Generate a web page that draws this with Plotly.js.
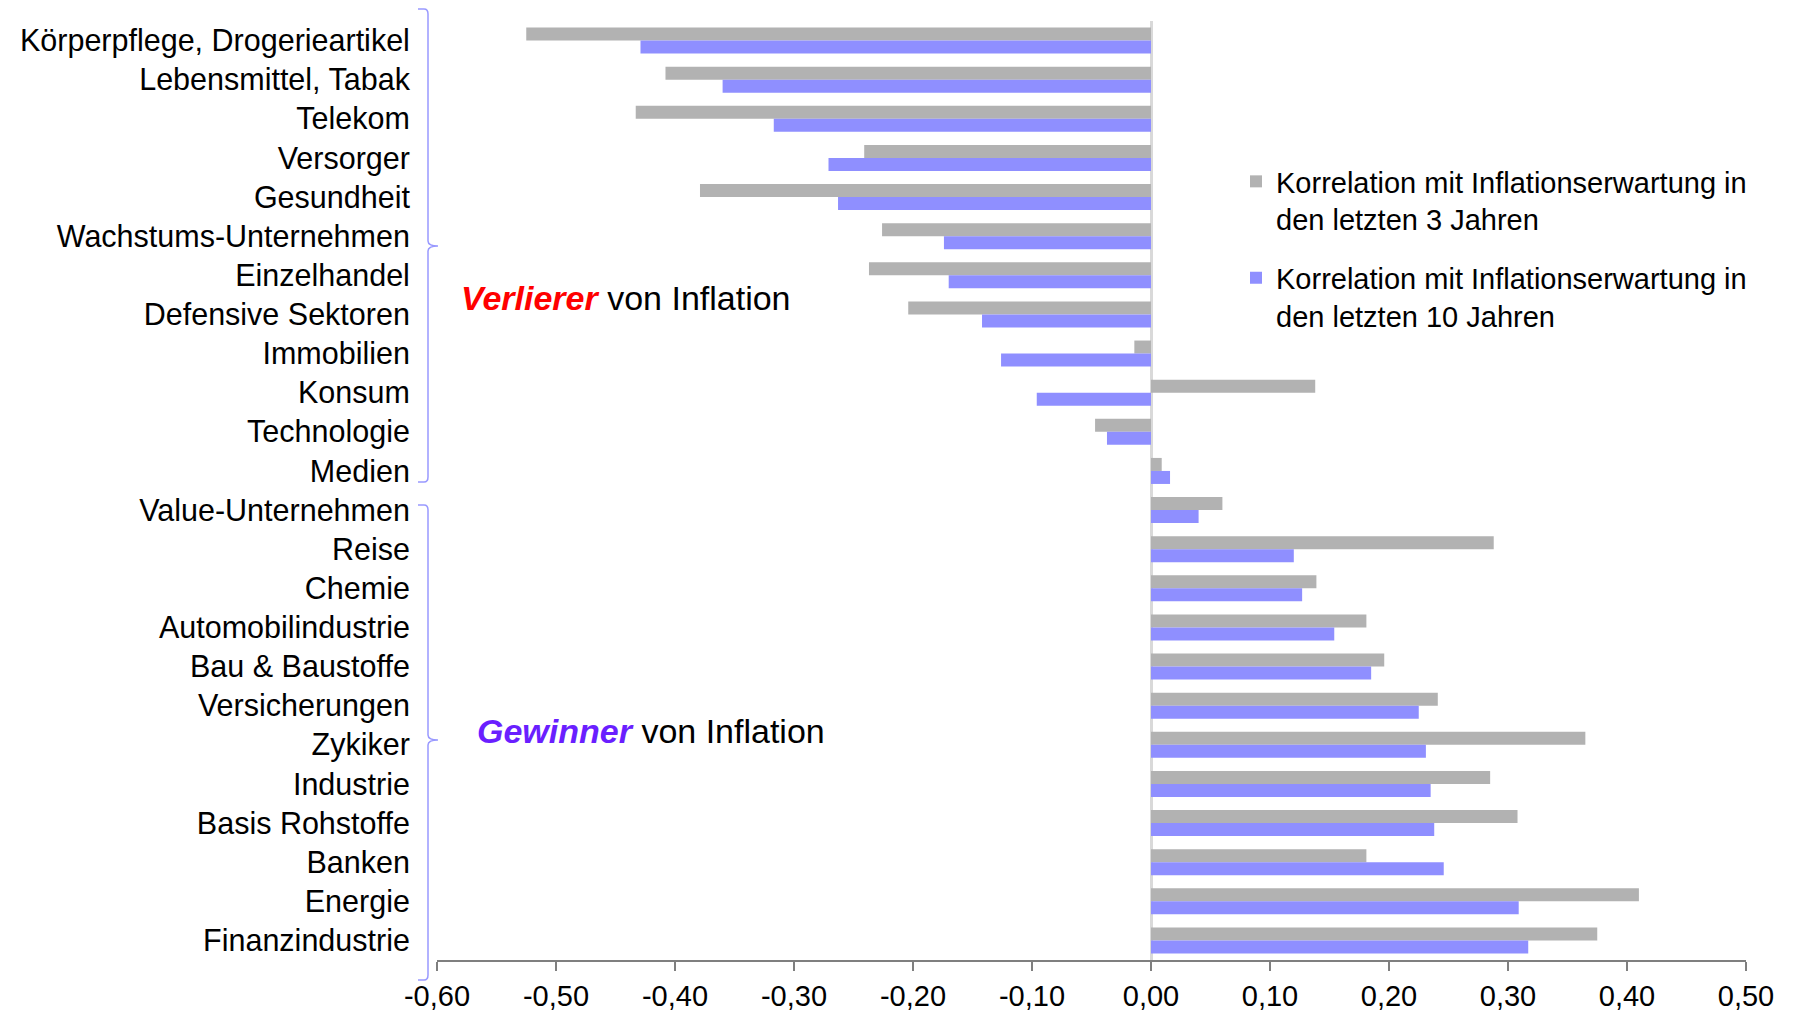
<!DOCTYPE html>
<html>
<head>
<meta charset="utf-8">
<script src="https://cdn.plot.ly/plotly-3.0.1.min.js"></script>
<style>
html,body{margin:0;padding:0;background:#fff;}
#chart{width:1796px;height:1017px;}
</style>
</head>
<body>
<div id="chart"></div>
<script>
// ---- data ----
var categories = [
  "Körperpflege, Drogerieartikel", "Lebensmittel, Tabak", "Telekom", "Versorger",
  "Gesundheit", "Wachstums-Unternehmen", "Einzelhandel", "Defensive Sektoren",
  "Immobilien", "Konsum", "Technologie", "Medien",
  "Value-Unternehmen", "Reise", "Chemie", "Automobilindustrie",
  "Bau & Baustoffe", "Versicherungen", "Zykiker", "Industrie",
  "Basis Rohstoffe", "Banken", "Energie", "Finanzindustrie"
];
var corr3Jahre = [
  -0.525, -0.408, -0.433, -0.241,
  -0.379, -0.226, -0.237, -0.204,
  -0.014, 0.138, -0.047, 0.009,
  0.060, 0.288, 0.139, 0.181,
  0.196, 0.241, 0.365, 0.285,
  0.308, 0.181, 0.410, 0.375
];
var corr10Jahre = [
  -0.429, -0.360, -0.317, -0.271,
  -0.263, -0.174, -0.170, -0.142,
  -0.126, -0.096, -0.037, 0.016,
  0.040, 0.120, 0.127, 0.154,
  0.185, 0.225, 0.231, 0.235,
  0.238, 0.246, 0.309, 0.317
];
var seriesNames = [
  "Korrelation mit Inflationserwartung in<br>den letzten 3 Jahren",
  "Korrelation mit Inflationserwartung in<br>den letzten 10 Jahren"
];
var tickVals = [-0.6, -0.5, -0.4, -0.3, -0.2, -0.1, 0, 0.1, 0.2, 0.3, 0.4, 0.5];
var tickText = tickVals.map(function (v) { return v.toFixed(2).replace('.', ','); });

// ---- layout geometry ----
var W = 1796, H = 1017;
var M = {l: 437, r: 50, t: 21, b: 57};
var plotW = W - M.l - M.r, plotH = H - M.t - M.b;
function px2x(px) { return (px - M.l) / plotW; }
function px2y(py) { return 1 - (py - M.t) / plotH; }

function bracePath(top, mid, bottom) {
  var xv = px2x(428), xl = px2x(418), xr = px2x(438);
  var r = 5;
  return 'M' + xl + ',' + px2y(top) +
    ' L' + px2x(424) + ',' + px2y(top) +
    ' Q' + xv + ',' + px2y(top) + ' ' + xv + ',' + px2y(top + r) +
    ' L' + xv + ',' + px2y(mid - r) +
    ' Q' + xv + ',' + px2y(mid) + ' ' + xr + ',' + px2y(mid) +
    ' Q' + xv + ',' + px2y(mid) + ' ' + xv + ',' + px2y(mid + r) +
    ' L' + xv + ',' + px2y(bottom - r) +
    ' Q' + xv + ',' + px2y(bottom) + ' ' + px2x(424) + ',' + px2y(bottom) +
    ' L' + xl + ',' + px2y(bottom);
}

var fontFam = '"Liberation Sans", Arial, sans-serif';

var traces = [
  {
    type: 'bar', orientation: 'h', name: seriesNames[0],
    y: categories, x: corr3Jahre,
    marker: {color: '#b2b2b2'},
    legendgroup: 'a', hoverinfo: 'x+y'
  },
  {
    type: 'bar', orientation: 'h', name: seriesNames[1],
    y: categories, x: corr10Jahre,
    marker: {color: '#8f8fff'},
    legendgroup: 'b', hoverinfo: 'x+y'
  }
];

var layout = {
  width: W, height: H,
  margin: {l: M.l, r: M.r, t: M.t, b: M.b, autoexpand: false},
  paper_bgcolor: '#ffffff', plot_bgcolor: '#ffffff',
  font: {family: fontFam, size: 29, color: '#000000'},
  barmode: 'group', bargap: 0.335, bargroupgap: 0,
  xaxis: {
    range: [-0.6, 0.5], tickvals: tickVals, ticktext: tickText,
    showgrid: false, zeroline: true, zerolinecolor: '#d9d9d9', zerolinewidth: 3,
    showline: true, linecolor: '#7f7f7f', linewidth: 2,
    ticks: 'outside', ticklen: 9, tickwidth: 2, tickcolor: '#7f7f7f',
    tickfont: {size: 29, color: '#000'}, fixedrange: true
  },
  yaxis: {
    type: 'category', autorange: 'reversed',
    showgrid: false, zeroline: false, showline: false,
    ticks: 'outside', ticklen: 20, tickcolor: 'rgba(0,0,0,0)',
    tickfont: {size: 30.5, color: '#000'}, fixedrange: true
  },
  showlegend: true,
  legend: {
    x: px2x(1236), xanchor: 'left', y: px2y(156), yanchor: 'top',
    traceorder: 'grouped', tracegroupgap: 18, valign: 'top',
    font: {size: 29, color: '#000'}, bgcolor: 'rgba(0,0,0,0)'
  },
  annotations: [
    {
      xref: 'paper', yref: 'paper', x: px2x(459), y: px2y(298),
      xanchor: 'left', yanchor: 'middle', showarrow: false,
      text: '<b><i><span style="color:#ff0000">Verlierer</span></i></b> von Inflation',
      font: {size: 34, color: '#000'}
    },
    {
      xref: 'paper', yref: 'paper', x: px2x(475), y: px2y(731),
      xanchor: 'left', yanchor: 'middle', showarrow: false,
      text: '<b><i><span style="color:#6a1fff">Gewinner</span></i></b> von Inflation',
      font: {size: 34, color: '#000'}
    }
  ],
  shapes: [
    {type: 'path', xref: 'paper', yref: 'paper', path: bracePath(9, 246, 482),
     line: {color: '#9999ff', width: 1.5}},
    {type: 'path', xref: 'paper', yref: 'paper', path: bracePath(505, 740, 980),
     line: {color: '#9999ff', width: 1.5}}
  ]
};

Plotly.newPlot('chart', traces, layout, {displayModeBar: false, staticPlot: true});
</script>
</body>
</html>
